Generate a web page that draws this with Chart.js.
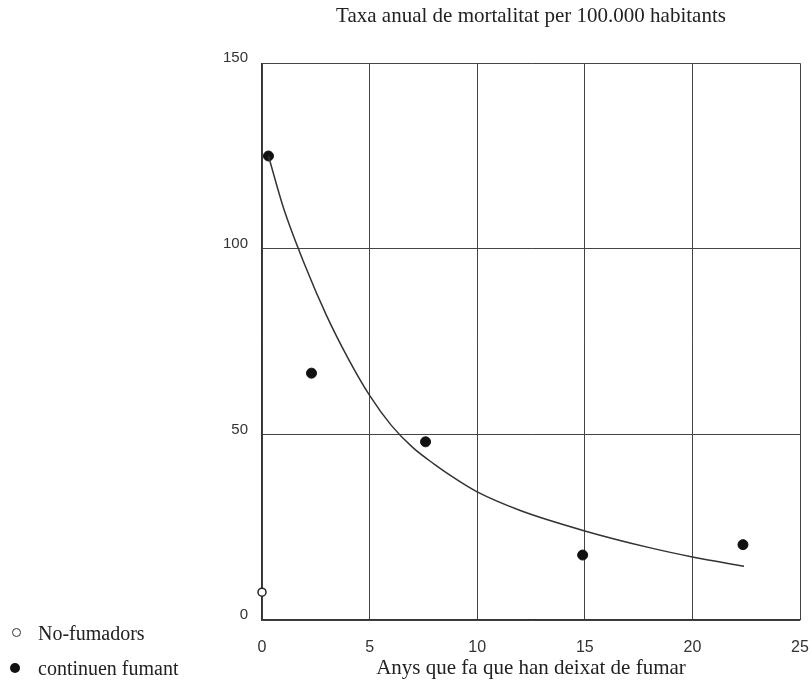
<!DOCTYPE html>
<html lang="ca">
<head>
  <meta charset="UTF-8" />
  <title>Taxa anual de mortalitat</title>
  <script src="https://cdn.jsdelivr.net/npm/chart.js"></script>
  <style>
    body {
      margin: 0;
      background: #fff;
    }
    .wrap {
      position: relative;
      width: 812px;
      height: 684px;
    }
    .legend {
      position: absolute;
      left: 38px;
      font-family: "Liberation Serif", serif;
      font-size: 20px;
      line-height: 24px;
      color: #222;
    }
    .dot {
      position: absolute;
      border-radius: 50%;
    }
  </style>
</head>
<body>
  <div class="wrap">
    <canvas id="chart" width="812" height="684"></canvas>
    <div class="dot" style="left:12px;top:628px;width:7px;height:7px;border:1.5px solid #333;"></div>
    <div class="legend" style="top:621px">No-fumadors</div>
    <div class="dot" style="left:10px;top:663px;width:10px;height:10px;background:#111;"></div>
    <div class="legend" style="top:656px">continuen fumant</div>
  </div>

  <script>
    // fitted curve
    const curveX = [0.3, 1, 2, 3, 4, 5, 6, 7, 8, 9, 10, 12, 15, 18, 20, 22.4];
    const curveY = [125, 111, 95.5, 82, 70.5, 60.5, 52.5, 46.5, 42, 38, 34.5, 29.5, 24, 19.5, 17, 14.5];

    // those who keep smoking
    const smokersX = [0.3, 2.3, 7.6, 14.9, 22.35];
    const smokersY = [125, 66.5, 48, 17.5, 20.3];

    // non-smokers
    const nonSmokersX = [0];
    const nonSmokersY = [7.5];

    const xTicks = [0, 5, 10, 15, 20, 25];
    const yTicks = [0, 50, 100, 150];

    const toPoints = (xs, ys) => xs.map((x, i) => ({ x: x, y: ys[i] }));

    const ctx = document.getElementById('chart').getContext('2d');
    new Chart(ctx, {
      type: 'scatter',
      data: {
        datasets: [
          {
            label: 'corba',
            data: toPoints(curveX, curveY),
            showLine: true,
            cubicInterpolationMode: 'monotone',
            borderColor: '#333',
            borderWidth: 1.5,
            pointRadius: 0
          },
          {
            label: 'continuen fumant',
            data: toPoints(smokersX, smokersY),
            backgroundColor: '#111',
            borderColor: '#111',
            pointRadius: 5,
            clip: false
          },
          {
            label: 'No-fumadors',
            data: toPoints(nonSmokersX, nonSmokersY),
            backgroundColor: '#fff',
            borderColor: '#222',
            borderWidth: 1.5,
            pointRadius: 4,
            clip: false
          }
        ]
      },
      options: {
        responsive: false,
        animation: false,
        layout: { padding: { left: 0, right: 12, top: 0, bottom: 0 } },
        scales: {
          x: {
            type: 'linear',
            min: 0,
            max: 25,
            afterBuildTicks: s => { s.ticks = xTicks.map(v => ({ value: v })); },
            afterFit: s => {
              s.height = 64;
              s.paddingLeft = 0;
              s.paddingRight = 0;
            },
            grid: { color: '#444', lineWidth: 1, drawTicks: false },
            border: { color: '#333', width: 1.3 },
            ticks: {
              padding: 18,
              color: '#333',
              font: { family: 'Liberation Sans', size: 16 }
            },
            title: {
              display: true,
              text: 'Anys que fa que han deixat de fumar',
              color: '#222',
              padding: { top: 2, bottom: 3 },
              font: { family: 'Liberation Serif', size: 21 }
            }
          },
          y: {
            min: 0,
            max: 150,
            afterBuildTicks: s => { s.ticks = yTicks.map(v => ({ value: v })); },
            afterFit: s => {
              s.width = 262;
              s.paddingTop = 0;
              s.paddingBottom = 0;
            },
            grid: { color: '#444', lineWidth: 1, drawTicks: false },
            border: { color: '#333', width: 1.3 },
            ticks: {
              padding: 14,
              labelOffset: -5,
              color: '#333',
              font: { family: 'Liberation Sans', size: 15 }
            }
          }
        },
        plugins: {
          legend: { display: false },
          tooltip: { enabled: false },
          title: {
            display: true,
            fullSize: false,
            text: 'Taxa anual de mortalitat per 100.000 habitants',
            color: '#222',
            padding: { top: 4, bottom: 34 },
            font: { family: 'Liberation Serif', size: 21, weight: 'normal' }
          }
        }
      }
    });
  </script>
</body>
</html>
